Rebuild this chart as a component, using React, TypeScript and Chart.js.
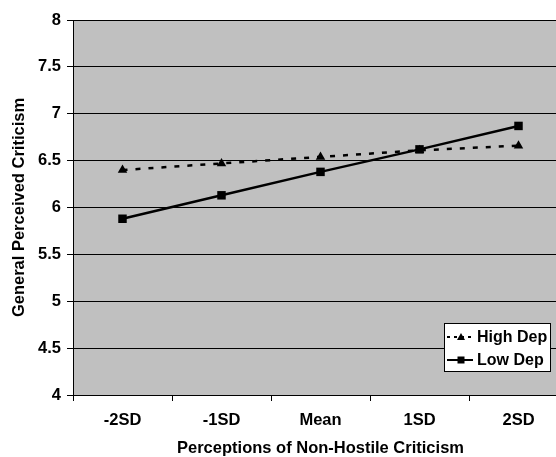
import React, { useEffect, useRef } from "react";
import { Chart, registerables } from "chart.js";

Chart.register(...registerables);

const categories = ["-2SD", "-1SD", "Mean", "1SD", "2SD"];
const highDep = [6.4, 6.47, 6.54, 6.61, 6.66];
const lowDep = [5.88, 6.13, 6.38, 6.62, 6.87];
const seriesNames = ["High Dep", "Low Dep"];
const yMin = 4;
const yMax = 8;
const yStep = 0.5;
const xTitle = "Perceptions of Non-Hostile Criticism";
const yTitle = "General Perceived Criticism";

const FONT = "Arial, 'Liberation Sans', Helvetica, sans-serif";

const bgPlugin = {
  id: "plotBg",
  beforeDraw(chart: any) {
    const { ctx, chartArea } = chart;
    ctx.save();
    ctx.fillStyle = "#c0c0c0";
    ctx.fillRect(chartArea.left, chartArea.top, chartArea.right - chartArea.left, chartArea.bottom - chartArea.top);
    ctx.restore();
  },
};

const legendPlugin = {
  id: "boxLegend",
  afterDraw(chart: any) {
    const { ctx, chartArea } = chart;
    const right = chartArea.right - 17;
    const bottom = chartArea.bottom - 23;
    const w = 107;
    const h = 49;
    const x0 = right - w;
    const y0 = bottom - h;
    ctx.save();
    ctx.fillStyle = "#ffffff";
    ctx.fillRect(x0, y0, w, h);
    ctx.strokeStyle = "#000";
    ctx.lineWidth = 1;
    ctx.strokeRect(x0 + 0.5, y0 + 0.5, w - 1, h - 1);
    const rows = [y0 + 14, y0 + 37];
    seriesNames.forEach((name, i) => {
      const cy = rows[i];
      ctx.strokeStyle = "#000";
      ctx.lineWidth = 2;
      ctx.setLineDash(i === 0 ? [3, 4] : []);
      ctx.beginPath();
      ctx.moveTo(x0 + 3, cy);
      ctx.lineTo(x0 + 29, cy);
      ctx.stroke();
      ctx.setLineDash([]);
      ctx.fillStyle = "#000";
      const mx = x0 + 17;
      if (i === 0) {
        ctx.beginPath();
        ctx.moveTo(mx, cy - 4);
        ctx.lineTo(mx + 4, cy + 3);
        ctx.lineTo(mx - 4, cy + 3);
        ctx.closePath();
        ctx.fill();
      } else {
        ctx.fillRect(mx - 3.5, cy - 3.5, 7, 7);
      }
      ctx.font = `bold 16px ${FONT}`;
      ctx.textBaseline = "middle";
      ctx.textAlign = "left";
      ctx.fillText(name, x0 + 33, cy + 1);
    });
    ctx.restore();
  },
};

export default function App() {
  const ref = useRef<HTMLCanvasElement | null>(null);

  useEffect(() => {
    if (!ref.current) return;
    const chart = new Chart(ref.current, {
      type: "line",
      data: {
        labels: categories,
        datasets: [
          {
            label: seriesNames[0],
            data: highDep,
            borderColor: "#000",
            backgroundColor: "#000",
            borderWidth: 2.5,
            borderDash: [5, 8],
            pointStyle: "triangle",
            pointRadius: 5.5,
            pointBorderWidth: 0,
            pointBackgroundColor: "#000",
            tension: 0,
            order: 1,
          },
          {
            label: seriesNames[1],
            data: lowDep,
            borderColor: "#000",
            backgroundColor: "#000",
            borderWidth: 2.5,
            pointStyle: "rect",
            pointRadius: 6,
            pointBorderWidth: 0,
            pointBackgroundColor: "#000",
            tension: 0,
            order: 0,
          },
        ],
      },
      options: {
        animation: false,
        responsive: false,
        devicePixelRatio: 1,
        layout: { padding: { left: 0, top: 20, right: 7, bottom: 0 } },
        plugins: {
          legend: { display: false },
          tooltip: { enabled: false },
        },
        scales: {
          x: {
            type: "category",
            offset: true,
            grid: {
              display: true,
              drawOnChartArea: false,
              drawTicks: true,
              tickLength: 6,
              color: "#000",
              lineWidth: 1,
              offset: true,
            },
            border: { display: true, color: "#000", width: 1 },
            ticks: {
              color: "#000",
              font: { family: FONT, size: 16.5, weight: "bold" },
              padding: 10,
              maxRotation: 0,
              autoSkip: false,
            },
            title: {
              display: true,
              text: xTitle,
              color: "#000",
              font: { family: FONT, size: 16.5, weight: "bold" },
              padding: { top: 0, bottom: 1 },
            },
            afterFit: (scale: any) => {
              scale.height = 64;
            },
          },
          y: {
            min: yMin,
            max: yMax,
            grid: {
              display: true,
              drawOnChartArea: true,
              drawTicks: true,
              tickLength: 6,
              color: "#000",
              lineWidth: 1,
            },
            border: { display: true, color: "#000", width: 1 },
            ticks: {
              stepSize: yStep,
              color: "#000",
              font: { family: FONT, size: 16.5, weight: "bold" },
              padding: 6,
              callback: (v: any) => String(v),
            },
            title: {
              display: true,
              text: yTitle,
              color: "#000",
              font: { family: FONT, size: 16.5, weight: "bold" },
              padding: { top: 10, bottom: 0 },
            },
            afterFit: (scale: any) => {
              scale.width = 73;
            },
          },
        },
      },
      plugins: [bgPlugin, legendPlugin],
    });
    return () => chart.destroy();
  }, []);

  return (
    <div
      style={{
        position: "absolute",
        left: 0,
        top: 0,
        width: 556,
        height: 457,
        overflow: "hidden",
        background: "#fff",
      }}
    >
      <canvas ref={ref} width={575} height={459} style={{ display: "block" }} />
    </div>
  );
}
